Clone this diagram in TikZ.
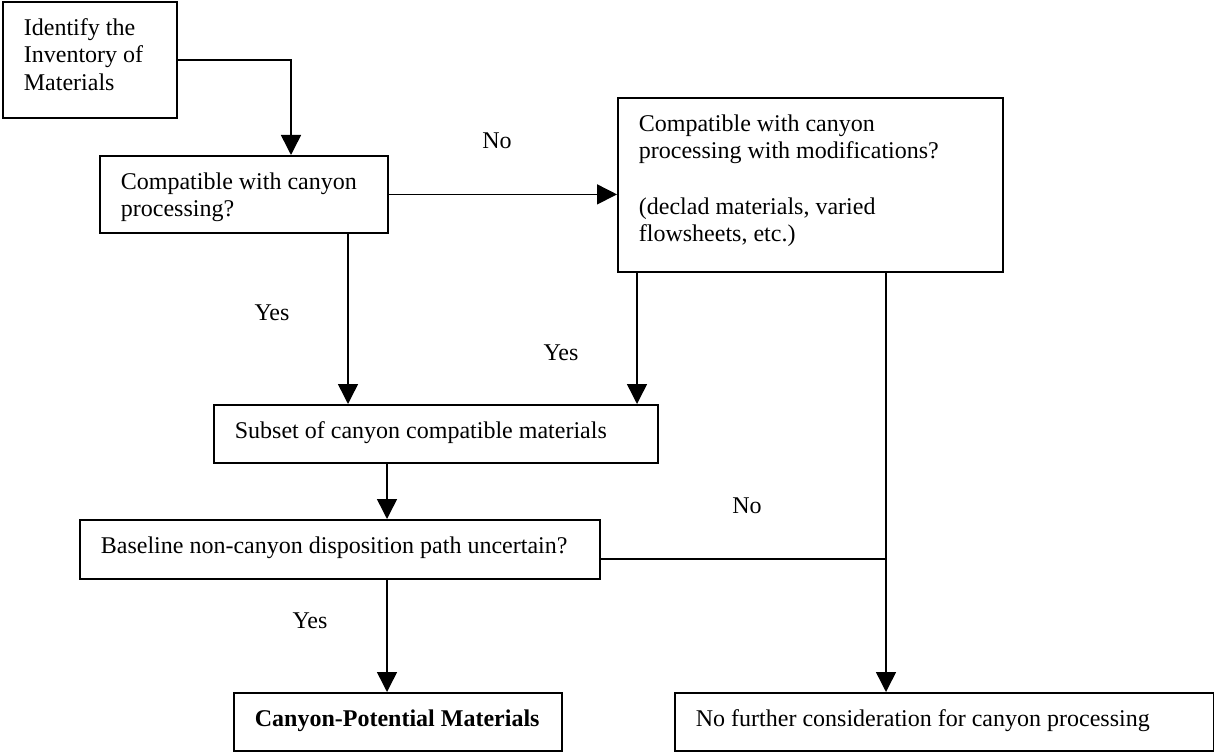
\documentclass[tikz,border=0pt]{standalone}
\usepackage{fontspec}
\setmainfont{Liberation Serif}
\usepackage{tikz}
\usetikzlibrary{arrows.meta}
\tikzset{
box/.style = {rectangle, draw=black, line width=0.9pt, anchor=north west,
              inner xsep=10.5pt, inner ysep=0pt, text width=#1,
              align=flush left, text height=16.75pt},
box/.default = 2cm % width of the text inside the box
}
\tikzset{
ans/.style = {anchor=base, inner sep=0pt}
}

\begin{document}
\begin{tikzpicture}[x=0.5pt, y=-0.5pt, line width=0.75pt,
    font=\fontsize{12pt}{13.8pt}\selectfont,
    >={Triangle[length=10pt, width=10pt]}]
    \useasboundingbox (0,0) rectangle (1214,753);

    \node[box=66pt, text depth=41.25pt] (inventory) at (2,1) {Identify the\\Inventory of\\Materials};
    \node[box=123pt, text depth=21.75pt] (compat) at (99,155) {Compatible with canyon\\processing?};
    \node[box=171.5pt, text depth=70.25pt] (modif) at (617,97) {Compatible with canyon\\processing with modifications?\\[13.8pt](declad materials, varied\\flowsheets, etc.)};
    \node[box=201pt, text depth=12.25pt] (subset) at (213,404) {Subset of canyon compatible materials};
    \node[box=239pt, text depth=12.75pt] (uncertain) at (79,519) {Baseline non-canyon disposition path uncertain?};
    \node[box=143pt, text depth=12.25pt] (potential) at (233,692) {\mbox{\textbf{Canyon-Potential Materials}}};
    \node[box=248.5pt, text depth=12.25pt] (further) at (674,692) {No further consideration for canyon processing};

    \node[ans] (noA) at (497,149) {No};
    \node[ans] (yesA) at (272,321) {Yes};
    \node[ans] (yesB) at (561,360) {Yes};
    \node[ans] (noB) at (747,513) {No};
    \node[ans] (yesC) at (310,628) {Yes};

    \coordinate (splitA) at ([xshift=124.5pt]compat.south west);
    \coordinate (splitB) at ([xshift=10pt]modif.south west);
    \coordinate (splitC) at ([xshift=134.5pt]modif.south west);
    \coordinate (splitD) at ([xshift=87pt]subset.south west);
    \coordinate (joinD) at ([yshift=10.5pt]uncertain.south east);

    \draw[->] (inventory.east) -| ([xshift=96pt]compat.north west);
    \draw[->] (compat.east) -- (compat.east -| modif.west);
    \draw[->] (splitA) -- (splitA |- subset.north);
    \draw[->] (splitB) -- (splitB |- subset.north);
    \draw[->] (splitC) -- (splitC |- further.north);
    \draw[->] (splitD) -- (splitD |- uncertain.north);
    \draw[->] (splitD |- uncertain.south) -- (splitD |- potential.north);
    \draw (joinD) -- (joinD -| splitC);
\end{tikzpicture}
\end{document}
